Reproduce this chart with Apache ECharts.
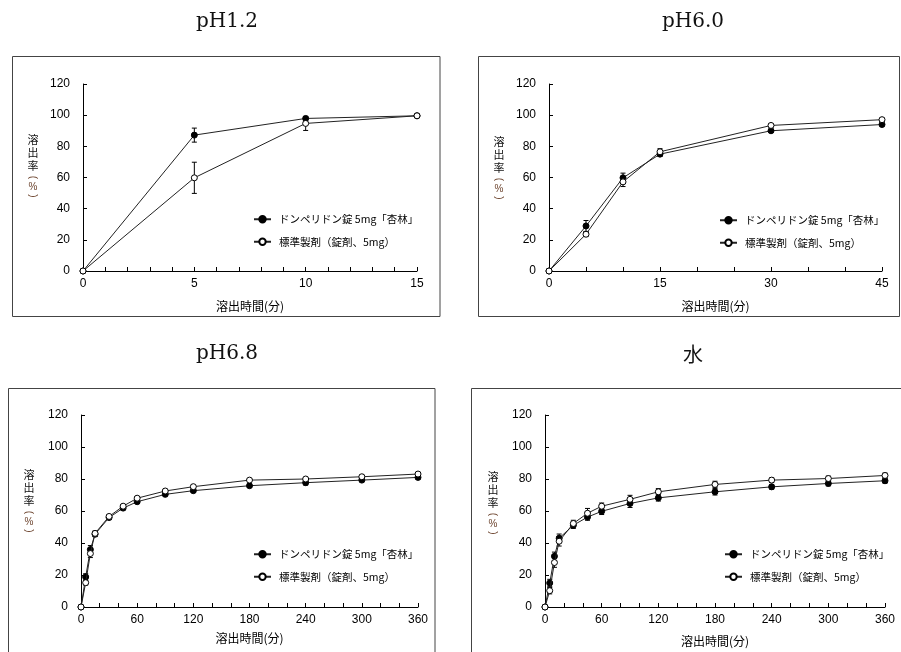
<!DOCTYPE html>
<html>
<head>
<meta charset="utf-8">
<script src="https://cdn.jsdelivr.net/npm/echarts@6/dist/echarts.min.js"></script>
<style>
html,body{margin:0;padding:0;background:#fff;}
#main{width:901px;height:652px;}
</style>
</head>
<body>
<div id="main"></div>
<script>
// ---------- data ----------
const panelTitles = ['pH1.2', 'pH6.0', 'pH6.8', '水'];
const seriesNames = ['ドンペリドン錠 5mg「杏林」', '標準製剤（錠剤、5mg）'];
const yAxisNameChars = ['溶', '出', '率', '(', '%', ')'];
const xAxisName = '溶出時間(分)';

// pH1.2
const times_pH12 = [0, 5, 10, 15];
const kyorin_pH12 = [0, 87.2, 97.9, 99.6];
const kyorinSD_pH12 = [0, 4.5, 1.0, 0.5];
const std_pH12 = [0, 59.8, 94.7, 99.6];
const stdSD_pH12 = [0, 10.0, 4.5, 0.5];

// pH6.0
const times_pH60 = [0, 5, 10, 15, 30, 45];
const kyorin_pH60 = [0, 28.9, 59.8, 75.0, 90.0, 94.0];
const kyorinSD_pH60 = [0, 3.5, 3.0, 1.5, 1.0, 1.0];
const std_pH60 = [0, 23.6, 57.2, 76.5, 93.4, 97.1];
const stdSD_pH60 = [0, 1.5, 3.0, 2.0, 1.0, 1.0];

// pH6.8
const times_pH68 = [0, 5, 10, 15, 30, 45, 60, 90, 120, 180, 240, 300, 360];
const kyorin_pH68 = [0, 18.8, 35.9, 45.5, 55.9, 61.8, 65.8, 70.4, 72.7, 75.8, 77.7, 79.3, 81.0];
const kyorinSD_pH68 = [0, 2.0, 2.5, 1.5, 1.0, 1.0, 1.0, 1.0, 1.0, 1.0, 1.5, 1.0, 1.0];
const std_pH68 = [0, 15.2, 33.4, 46.0, 56.6, 63.0, 68.0, 72.5, 75.2, 79.3, 80.0, 81.4, 83.1];
const stdSD_pH68 = [0, 1.5, 2.5, 1.5, 1.0, 1.0, 1.0, 1.0, 1.0, 1.0, 1.0, 1.0, 1.0];

// 水
const times_water = [0, 5, 10, 15, 30, 45, 60, 90, 120, 180, 240, 300, 360];
const kyorin_water = [0, 15.0, 31.7, 43.0, 51.1, 56.2, 59.8, 64.7, 68.2, 72.0, 75.1, 77.2, 78.9];
const kyorinSD_water = [0, 2.3, 2.6, 2.6, 2.0, 2.0, 2.0, 2.5, 2.0, 2.0, 1.5, 1.5, 1.5];
const std_water = [0, 10.2, 27.8, 41.1, 52.2, 58.6, 63.0, 67.3, 72.0, 76.6, 79.3, 80.3, 82.2];
const stdSD_water = [0, 2.0, 3.0, 3.0, 2.0, 3.0, 2.0, 2.5, 2.0, 2.0, 1.5, 1.5, 1.5];

// axis settings per panel
const xMax = [15, 45, 360, 360];
const xTickStep = [1, 5, 20, 20];
const xLabelStep = [5, 15, 60, 60];
const yMax = 120;
const yStep = 20;

// ---------- layout ----------
const grids = [
  {left: 83, top: 84, width: 334, height: 187},
  {left: 549, top: 84, width: 333, height: 187},
  {left: 81, top: 415, width: 337, height: 192},
  {left: 545, top: 415, width: 340, height: 192}
];
const titlePos = [[227, 12], [693, 12], [227, 344], [693, 344]];
const legendPos = [[253, 214], [719, 215], [253, 549], [724, 549]];
// top-character centre of vertical y-axis name per panel
const yNamePos = [[33, 140], [499, 142], [29, 475], [493, 477]];
const yNameOffsets = [0, 12.5, 25.5, 37.5, 47, 56];
const yNameRot = [0, 0, 0, -Math.PI / 2, 0, -Math.PI / 2];
const xNameGap = [29, 29, 25, 28];
const boxes = [
  {x: 12.5, y: 56.5, w: 427.5, h: 260},
  {x: 478.5, y: 56.5, w: 421, h: 260},
  {x: 8.5, y: 388.5, w: 426.5, h: 300},
  {x: 471.5, y: 388.5, w: 440, h: 300}
];

const panels = [
  {t: times_pH12, k: kyorin_pH12, ks: kyorinSD_pH12, s: std_pH12, ss: stdSD_pH12},
  {t: times_pH60, k: kyorin_pH60, ks: kyorinSD_pH60, s: std_pH60, ss: stdSD_pH60},
  {t: times_pH68, k: kyorin_pH68, ks: kyorinSD_pH68, s: std_pH68, ss: stdSD_pH68},
  {t: times_water, k: kyorin_water, ks: kyorinSD_water, s: std_water, ss: stdSD_water}
];

const sansFont = '"Liberation Sans", Arial, sans-serif';
const cjkFont = '"Noto Sans CJK JP", "Noto Sans", sans-serif';

function errRender(params, api) {
  const x = api.value(0), lo = api.value(1), hi = api.value(2);
  const p1 = api.coord([x, lo]);
  const p2 = api.coord([x, hi]);
  const w = 2.5;
  const st = {stroke: '#000', lineWidth: 1};
  return {
    type: 'group',
    children: [
      {type: 'line', shape: {x1: p1[0], y1: p1[1], x2: p2[0], y2: p2[1]}, style: st},
      {type: 'line', shape: {x1: p1[0] - w, y1: p1[1], x2: p1[0] + w, y2: p1[1]}, style: st},
      {type: 'line', shape: {x1: p2[0] - w, y1: p2[1], x2: p2[0] + w, y2: p2[1]}, style: st}
    ]
  };
}

const graphics = [];
boxes.forEach((b) => graphics.push({
  type: 'rect',
  silent: true,
  z: -1,
  shape: {x: b.x, y: b.y, width: b.w, height: b.h},
  style: {fill: 'none', stroke: '#444', lineWidth: 1}
}));
yNamePos.forEach((p) => {
  yAxisNameChars.forEach((c, k) => graphics.push({
    type: 'text',
    silent: true,
    x: p[0],
    y: p[1] + yNameOffsets[k],
    rotation: yNameRot[k],
    style: {
      text: c,
      align: 'center',
      verticalAlign: 'middle',
      fontFamily: k < 3 ? cjkFont : sansFont,
      fontSize: k < 3 ? 11 : 10,
      fill: k < 3 ? '#111' : '#6e4630'
    }
  }));
});

const option = {
  backgroundColor: '#fff',
  animation: false,
  title: panelTitles.map((t, i) => ({
    text: t,
    left: titlePos[i][0],
    top: titlePos[i][1],
    textAlign: 'center',
    padding: 0,
    textStyle: {
      fontFamily: i === 3 ? cjkFont : '"DejaVu Serif", "Liberation Serif", serif',
      fontSize: 20,
      fontWeight: 'normal',
      color: '#111'
    }
  })),
  legend: legendPos.map((p) => ({
    orient: 'vertical',
    left: p[0],
    top: p[1],
    itemWidth: 17,
    itemHeight: 8,
    itemGap: 12,
    padding: 0,
    data: seriesNames,
    selectedMode: false,
    textStyle: {fontFamily: cjkFont, fontSize: 10.5, color: '#000', padding: [0, 0, 0, 3]}
  })),
  grid: grids,
  xAxis: grids.map((g, i) => ({
    type: 'value',
    gridIndex: i,
    min: 0,
    max: xMax[i],
    interval: xTickStep[i],
    name: xAxisName,
    nameLocation: 'middle',
    nameGap: xNameGap[i],
    nameTextStyle: {fontFamily: cjkFont, fontSize: 12, color: '#000'},
    splitLine: {show: false},
    axisLine: {lineStyle: {color: '#000', width: 1}},
    axisTick: {show: true, inside: true, length: 4, lineStyle: {color: '#000'}},
    axisLabel: {
      margin: 7, fontFamily: sansFont, fontSize: 12, color: '#000',
      showMinLabel: true, showMaxLabel: true, hideOverlap: false, interval: 0,
      formatter: (v) => (Math.round(v) % xLabelStep[i] === 0 ? String(Math.round(v)) : '')
    }
  })),
  yAxis: grids.map((g, i) => ({
    type: 'value',
    gridIndex: i,
    min: 0,
    max: yMax,
    interval: yStep,
    splitLine: {show: false},
    axisLine: {show: true, lineStyle: {color: '#000', width: 1}},
    axisTick: {show: true, inside: true, length: 4, lineStyle: {color: '#000'}},
    axisLabel: {margin: 13, fontFamily: sansFont, fontSize: 12, color: '#000'}
  })),
  graphic: graphics,
  series: []
};

panels.forEach((p, i) => {
  option.series.push({
    type: 'custom',
    xAxisIndex: i, yAxisIndex: i,
    renderItem: errRender,
    z: 1,
    silent: true,
    data: p.t.map((t, j) => [t, p.k[j] - p.ks[j], p.k[j] + p.ks[j]]).filter((d, j) => p.ks[j] > 0)
  });
  option.series.push({
    type: 'custom',
    xAxisIndex: i, yAxisIndex: i,
    renderItem: errRender,
    z: 1,
    silent: true,
    data: p.t.map((t, j) => [t, p.s[j] - p.ss[j], p.s[j] + p.ss[j]]).filter((d, j) => p.ss[j] > 0)
  });
  option.series.push({
    name: seriesNames[0],
    type: 'line',
    xAxisIndex: i, yAxisIndex: i,
    z: 3,
    data: p.t.map((t, j) => [t, p.k[j]]),
    symbol: 'circle',
    symbolSize: 6,
    showSymbol: true,
    lineStyle: {color: '#222', width: 1},
    itemStyle: {color: '#000', borderColor: '#000', borderWidth: 1}
  });
  option.series.push({
    name: seriesNames[1],
    type: 'line',
    xAxisIndex: i, yAxisIndex: i,
    z: 4,
    data: p.t.map((t, j) => [t, p.s[j]]),
    symbol: 'circle',
    symbolSize: 6,
    showSymbol: true,
    lineStyle: {color: '#222', width: 1},
    itemStyle: {color: '#fff', borderColor: '#000', borderWidth: 1}
  });
});

const chart = echarts.init(document.getElementById('main'), null, {renderer: 'canvas'});
chart.setOption(option);
</script>
</body>
</html>
